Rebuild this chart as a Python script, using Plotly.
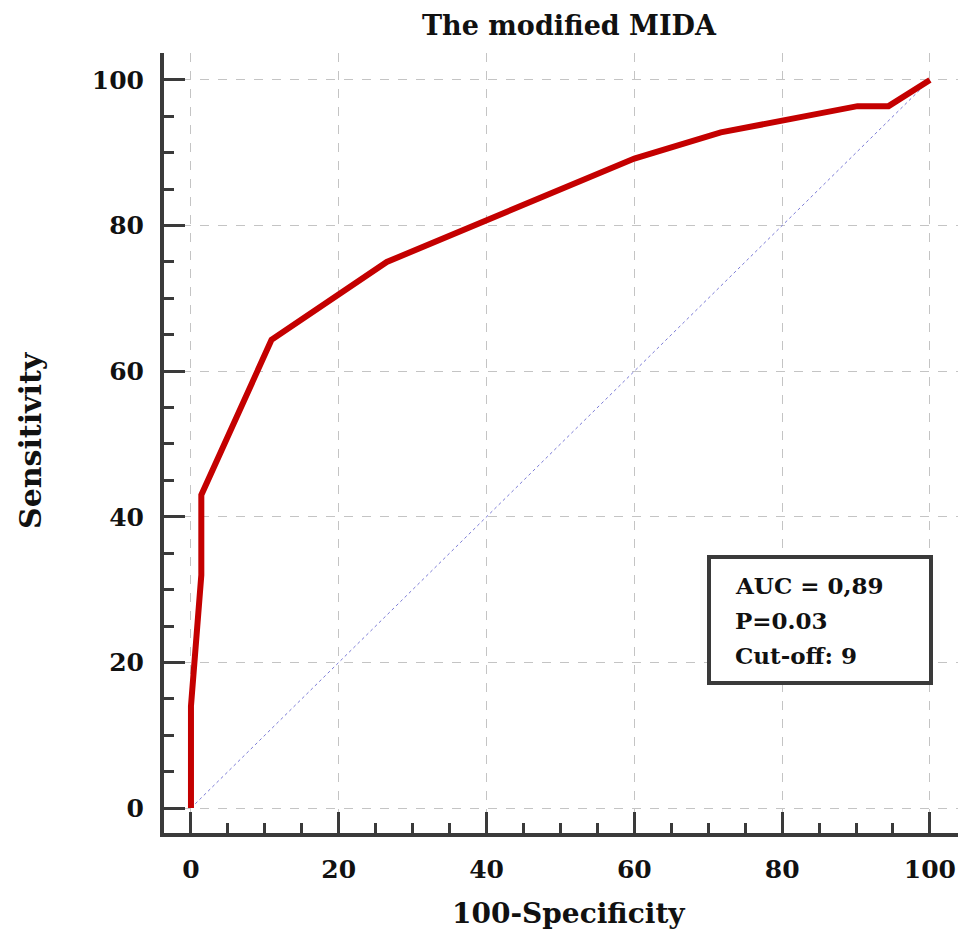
import plotly.graph_objects as go

# ROC curve points (100-Specificity, Sensitivity)
fpr = [0, 0, 1.4, 1.4, 10.9, 26.5, 60.0, 71.7, 90.2, 94.4, 100]
tpr = [0, 14, 32, 43, 64.3, 75.0, 89.2, 92.8, 96.4, 96.4, 100]
ref_x = [0, 100]
ref_y = [0, 100]
tick_vals = [0, 20, 40, 60, 80, 100]
tick_text = ["0", "20", "40", "60", "80", "100"]
title_text = "The modified MIDA"
x_title = "100-Specificity"
y_title = "Sensitivity"
stats_lines = ["AUC = 0,89", "P=0.03", "Cut-off: 9"]

SERIF = "DejaVu Serif"
AXC = "#3a3a3a"

fig = go.Figure()
fig.add_trace(go.Scatter(x=ref_x, y=ref_y, mode="lines",
                         line=dict(color="#7b7bd6", width=1, dash="dot"),
                         hoverinfo="skip", showlegend=False))
fig.add_trace(go.Scatter(x=fpr, y=tpr, mode="lines",
                         line=dict(color="#c40000", width=6),
                         showlegend=False))

axis_common = dict(
    showline=True, linecolor=AXC, linewidth=4, mirror=False,
    ticks="inside", ticklen=21, tickwidth=3, tickcolor=AXC,
    tickvals=tick_vals, ticktext=tick_text,
    tickfont=dict(family=SERIF, size=25, color="#111", weight="bold"),
    showgrid=True, gridcolor="#c4c4c4", gridwidth=1, griddash="dash",
    zeroline=False,
    minor=dict(ticks="inside", ticklen=10, tickwidth=3, tickcolor=AXC,
               dtick=5, tick0=0, showgrid=False),
    ticklabelstandoff=11,
)

fig.update_xaxes(range=[-3.65, 103.8], **axis_common)
fig.update_yaxes(range=[-3.43, 103.7], **axis_common)

# stats box
fig.add_shape(type="rect", xref="paper", yref="paper",
              x0=(709 - 164) / 794, x1=(931 - 164) / 794,
              y0=(833 - 683) / 780, y1=(833 - 557) / 780,
              line=dict(color=AXC, width=4), fillcolor="white", layer="above")
row_y = [585, 620, 655]
for txt, py in zip(stats_lines, row_y):
    fig.add_annotation(text="<b>" + txt + "</b>", xref="paper", yref="paper",
                       x=(733 - 164) / 794, y=(833 - py) / 780,
                       xanchor="left", yanchor="middle", showarrow=False,
                       font=dict(family=SERIF, size=23, color="#111"))

fig.add_annotation(text="<b>" + title_text + "</b>", xref="paper", yref="paper",
                   x=(569 - 164) / 794, y=(833 - 26) / 780,
                   xanchor="center", yanchor="middle", showarrow=False,
                   font=dict(family=SERIF, size=27, color="#111"))
fig.add_annotation(text="<b>" + x_title + "</b>", xref="paper", yref="paper",
                   x=(568 - 164) / 794, y=(833 - 913) / 780,
                   xanchor="center", yanchor="middle", showarrow=False,
                   font=dict(family=SERIF, size=28, color="#111"))
fig.add_annotation(text="<b>" + y_title + "</b>", xref="paper", yref="paper",
                   x=(30 - 164) / 794, y=(833 - 440) / 780, textangle=-90,
                   xanchor="center", yanchor="middle", showarrow=False,
                   font=dict(family=SERIF, size=30, color="#111"))

fig.update_layout(
    width=972, height=934,
    margin=dict(l=164, r=14, t=53, b=101),
    plot_bgcolor="white", paper_bgcolor="white",
    showlegend=False,
)

fig.write_html("out.html")
